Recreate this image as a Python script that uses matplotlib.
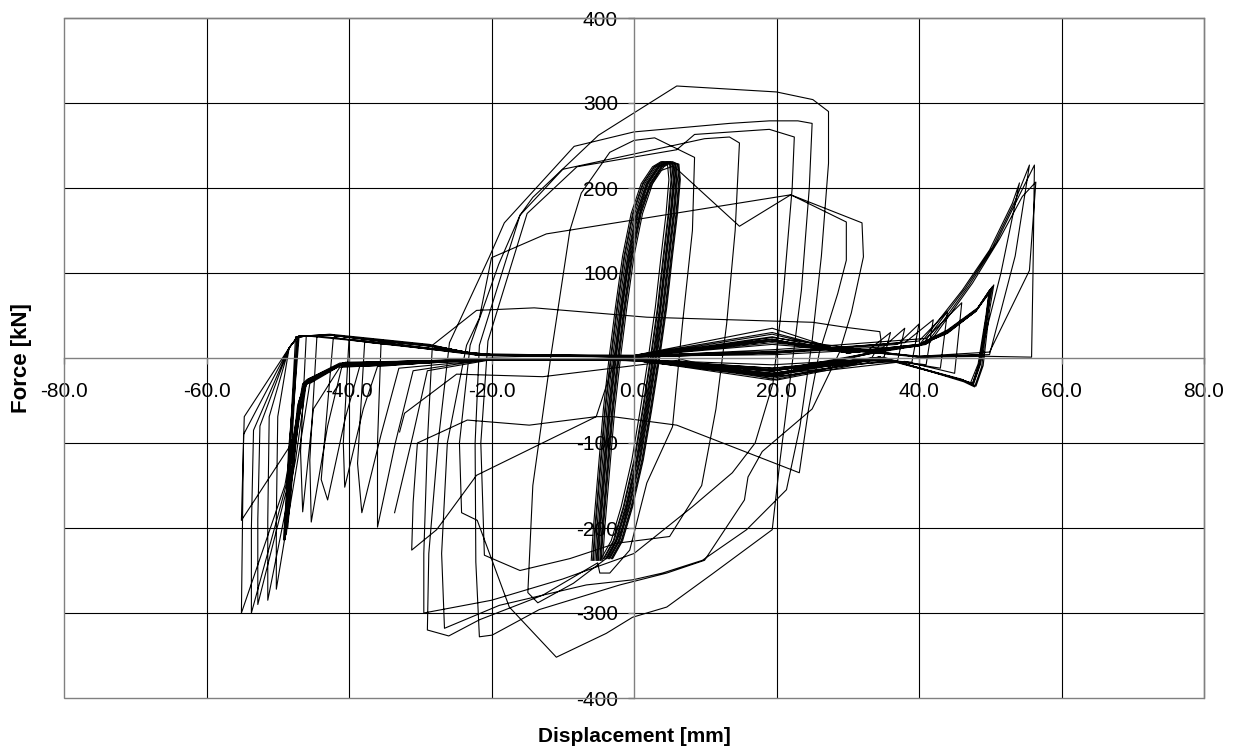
import numpy as np
import matplotlib.pyplot as plt
from matplotlib.patches import Rectangle

plt.rcParams['font.family'] = ['Liberation Sans', 'DejaVu Sans']

# elastic cycles: force levels at which each narrow loop was read ...
elastic_levels = [-238, -200, -130, -60, 0, 60, 120, 170, 205, 225, 231,
                  228, 210, 170, 120, 60, 0, -60, -120, -175, -215, -236]
# ... and the displacement of every loop at those levels (one loop per row)
elastic_x = [
    [-6.0, -5.7, -5.0, -4.3, -3.5, -2.6, -1.6, -0.4, 1.0, 2.6, 3.8, 5.1, 5.3, 4.9, 4.2, 3.4, 2.4, 1.3, 0.1, -1.4, -2.8, -4.2],
    [-5.7, -5.4, -4.7, -4.0, -3.2, -2.3, -1.3, -0.1, 1.3, 2.9, 4.1, 4.7, 4.9, 4.5, 3.8, 3.0, 2.0, 0.9, -0.3, -1.8, -3.2, -4.6],
    [-5.5, -5.2, -4.5, -3.8, -3.0, -2.1, -1.1, 0.1, 1.5, 3.1, 4.3, 5.5, 5.7, 5.3, 4.6, 3.8, 2.8, 1.7, 0.5, -1.0, -2.4, -3.8],
    [-5.3, -5.0, -4.3, -3.6, -2.8, -1.9, -0.9, 0.3, 1.7, 3.3, 4.5, 5.0, 5.2, 4.8, 4.1, 3.3, 2.3, 1.2, 0.0, -1.5, -2.9, -4.3],
    [-5.1, -4.8, -4.1, -3.4, -2.6, -1.7, -0.7, 0.5, 1.9, 3.5, 4.7, 5.9, 6.1, 5.7, 5.0, 4.2, 3.2, 2.1, 0.9, -0.6, -2.0, -3.4],
    [-5.0, -4.7, -4.0, -3.3, -2.5, -1.6, -0.6, 0.6, 2.0, 3.6, 4.8, 5.4, 5.6, 5.2, 4.5, 3.7, 2.7, 1.6, 0.4, -1.1, -2.5, -3.9],
    [-4.8, -4.5, -3.8, -3.1, -2.3, -1.4, -0.4, 0.8, 2.2, 3.8, 5.0, 6.1, 6.3, 5.9, 5.2, 4.4, 3.4, 2.3, 1.1, -0.4, -1.8, -3.2],
    [-4.6, -4.3, -3.6, -2.9, -2.1, -1.2, -0.2, 1.0, 2.4, 4.0, 5.2, 5.7, 5.9, 5.5, 4.8, 4.0, 3.0, 1.9, 0.7, -0.8, -2.2, -3.6],
    [-4.4, -4.1, -3.4, -2.7, -1.9, -1.0, 0.0, 1.2, 2.6, 4.2, 5.4, 6.2, 6.4, 6.0, 5.3, 4.5, 3.5, 2.4, 1.2, -0.3, -1.7, -3.1],
    [-5.8, -5.5, -4.8, -4.1, -3.3, -2.4, -1.4, -0.2, 1.2, 2.8, 4.0, 5.8, 6.0, 5.6, 4.9, 4.1, 3.1, 2.0, 0.8, -0.7, -2.1, -3.5],
    [-4.7, -4.4, -3.7, -3.0, -2.2, -1.3, -0.3, 0.9, 2.3, 3.9, 5.1, 5.3, 5.5, 5.1, 4.4, 3.6, 2.6, 1.5, 0.3, -1.2, -2.6, -4.0],
    [-5.2, -4.9, -4.2, -3.5, -2.7, -1.8, -0.8, 0.4, 1.8, 3.4, 4.6, 6.3, 6.5, 6.1, 5.4, 4.6, 3.6, 2.5, 1.3, -0.2, -1.6, -3.0],
]

# large cycles (displacement, force)
peak_cycles = [
    (5.8, 224), (14.8, 155), (22.0, 192), (29.8, 160), (29.8, 115), (28.6, 76), (26.0, 6),
    (24.5, -60), (23.2, -135), (6.0, -79), (-3.0, -69), (-5.3, -69), (-14.7, -79), (-23.4, -73),
    (-30.4, -100), (-31.0, -170), (-31.2, -226), (-27.7, -202), (-22.1, -138), (-5.3, -69),
    (-2.6, 0), (-1.0, 100), (1.2, 185), (3.6, 220), (5.6, 226),
    (5.8, 215), (4.2, 100), (3.0, 0), (1.0, -100), (-1.6, -200), (-3.6, -234), (-8.5, -265),
    (-13.5, -288), (-14.9, -276), (-14.2, -150), (-11.6, 6), (-9.0, 150), (-7.4, 194),
    (-3.4, 242), (0.0, 256), (2.9, 259), (8.5, 236), (8.2, 150), (6.8, 40), (5.4, -81),
    (1.8, -147), (-0.6, -226), (-3.4, -253), (-4.8, -253), (-5.1, -241),
    (-12.8, -279), (-21.7, -308), (-26.0, -327), (-29.0, -320), (-28.8, -230), (-27.5, -100),
    (-25.9, 18), (-20.3, 119), (-18.2, 159), (-8.4, 249), (0.0, 266), (13.4, 276), (19.0, 279),
    (23.0, 279), (25.0, 276), (24.6, 200), (23.5, 80), (22.0, -20), (20.5, -120), (19.4, -202),
    (11.0, -254), (4.6, -293), (-0.2, -305), (-3.9, -324), (-10.9, -352), (-17.5, -293),
    (-22.0, -191), (-24.2, -182), (-24.5, -100), (-23.0, 15), (-19.0, 110), (-16.0, 168),
    (-14.2, 189), (-5.0, 262), (6.0, 320), (20.0, 313), (25.1, 304), (27.3, 290), (27.3, 229),
    (26.3, 120), (25.0, 20), (23.3, -80), (21.4, -155),
    (15.8, -202), (9.6, -238), (4.0, -253), (-0.2, -261), (-6.7, -267), (-18.9, -291),
    (-26.6, -318), (-27.0, -230), (-26.2, -100), (-23.5, 15), (-21.7, 47), (-20.0, 118),
    (-12.3, 146), (22.0, 192), (32.0, 159), (32.2, 119), (30.5, 53), (28.8, 6), (25.0, -60),
    (18.0, -110), (16.0, -140), (15.5, -167),
    (9.9, -238), (4.6, -253), (-2.0, -267), (-13.3, -296), (-19.9, -326), (-21.7, -328),
    (-22.2, -240), (-22.3, -100), (-21.7, 15), (-16.0, 168), (-10.0, 222), (0.0, 240),
    (9.9, 258), (13.4, 260), (14.8, 253), (14.2, 150), (13.0, 40), (11.5, -60), (9.5, -150),
    (5.0, -210), (-2.5, -218), (-9.0, -236), (-16.0, -250), (-21.0, -232), (-21.5, -100),
    (-20.5, 20), (-15.0, 170), (-8.0, 225), (6.0, 245), (8.5, 263), (19.0, 269), (22.5, 260),
    (22.2, 200), (21.0, 80), (19.5, -30), (17.0, -100), (13.8, -135), (8.2, -175),
    (0.0, -230), (-10.0, -260), (-20.0, -285), (-29.5, -300),
    (-29.5, -230), (-29.0, -100), (-28.3, 15), (-22.1, 56), (-14.0, 59), (1.8, 48),
    (25.1, 42), (29.8, 36), (34.5, 31), (34.7, 19), (33.0, -5), (20.0, -26), (6.8, -2),
    (-12.8, -22), (-24.9, -19), (-32.2, -65), (-32.9, -87),
]

# slip cycles at large displacement
slip_cycles = [
    (-33.6, -182), (-31.0, -90), (-29.0, -15), (-20.0, -2), (0.0, -2), (19.4, -8), (30.0, -3),
    (35.0, -2), (36.0, 30), (33.0, 10), (20.0, 4), (0.0, 2), (-20.0, 4), (-30.0, 12), (-35.5, 18),
    (-36.0, -100), (-36.0, -199), (-33.5, -100), (-31.0, -15), (-20.0, -1), (0.0, -3),
    (19.4, -18), (32.0, -4), (37.0, -3), (38.0, 35), (35.0, 13), (20.0, 6), (0.0, 1),
    (-20.0, 4), (-33.0, 15), (-37.8, 19),
    (-38.8, -124), (-38.2, -182), (-35.5, -90), (-33.0, -12), (-20.0, -2), (0.0, -1),
    (19.4, -12), (34.0, -2), (39.0, -5), (40.0, 40), (37.0, 16), (20.0, 7), (0.0, 2),
    (-21.7, 3), (-35.0, 17), (-40.0, 22),
    (-40.8, -100), (-40.6, -152), (-38.0, -60), (-36.0, -10), (-20.0, 0), (0.0, -3),
    (19.4, -20), (36.0, -3), (41.0, -8), (42.0, 45), (38.0, 18), (20.0, 8), (0.0, 3),
    (-21.7, 4), (-37.0, 18), (-42.2, 24),
    (-43.9, -143), (-43.0, -167), (-40.5, -70), (-38.5, -10), (-20.0, -2), (0.0, -2),
    (19.4, -14), (37.0, -4), (43.0, -12), (44.0, 55), (40.0, 20), (20.0, 6), (0.0, 1),
    (-21.7, 4), (-38.0, 20), (-44.5, 26),
    (-45.5, -120), (-45.3, -193), (-43.0, -80), (-41.0, -10), (-20.0, -1), (0.0, -3),
    (19.4, -22), (38.0, -4), (45.0, -18), (46.0, 65), (41.0, 23), (20.0, 10), (0.0, 2),
    (-21.7, 5), (-40.0, 21), (-46.0, 26),
    (-46.8, -110), (-46.5, -181), (-45.0, -60), (-41.3, -11), (-20.0, -2), (0.0, -1),
    (19.4, -15), (34.5, 1), (46.1, -26), (47.5, -30), (48.5, -6), (49.5, 50), (50.0, 78),
    (48.0, 55), (44.0, 30), (40.0, 15), (30.0, 6), (19.4, 22), (0.0, 2), (-21.7, 4),
    (-42.7, 27), (-47.2, 25),
    (-48.0, -100), (-49.0, -214), (-48.3, -150), (-47.0, -50), (-46.0, -26), (-40.9, -6),
    (-20.0, -1), (0.0, -3), (19.4, -20), (34.5, 0), (46.1, -26), (47.6, -32), (48.6, -8),
    (49.6, 52), (50.3, 84), (48.2, 58), (44.0, 32), (40.0, 16), (30.0, 7), (19.4, 30),
    (0.0, 3), (-21.7, 3), (-28.7, 15), (-42.7, 27), (-47.0, 26),
    (-48.2, -100), (-48.8, -208), (-48.0, -140), (-46.8, -45), (-45.5, -24), (-40.5, -5),
    (-20.0, -2), (0.0, -2), (19.4, -26), (35.0, 1), (46.3, -28), (47.8, -34), (48.8, -10),
    (49.7, 55), (50.0, 80), (48.0, 56), (44.0, 30), (40.0, 14), (30.0, 6), (19.4, 25),
    (0.0, 2), (-21.7, 4), (-28.7, 14), (-42.7, 27), (-47.3, 25),
    (-48.4, -110), (-49.2, -214), (-48.5, -150), (-47.2, -55), (-46.0, -27), (-41.0, -7),
    (-20.0, -1), (0.0, -3), (19.4, -18), (34.5, 1), (46.0, -25), (47.2, -30), (48.3, -7),
    (49.4, 50), (49.8, 76), (47.8, 54), (44.0, 29), (40.0, 15), (30.0, 6), (19.4, 35),
    (0.0, 3), (-21.7, 3), (-28.7, 16), (-42.7, 28), (-47.5, 25),
    (-48.3, -100), (-48.6, -200), (-48.0, -145), (-46.8, -50), (-45.8, -25), (-41.3, -6),
    (-20.0, -2), (0.0, -1), (19.4, -24), (35.0, 0), (46.5, -27), (48.0, -33), (49.0, -9),
    (49.9, 56), (50.5, 86), (48.4, 60), (44.0, 33), (40.0, 16), (30.0, 7), (19.4, 28),
    (0.0, 2), (-21.7, 4), (-28.7, 15), (-42.7, 27), (-47.1, 26),
    (-48.5, -110), (-49.0, -212), (-48.2, -150), (-47.0, -52), (-46.2, -28), (-40.8, -6),
    (-20.0, -1), (0.0, -2), (19.4, -12), (34.5, 1), (46.1, -26), (47.5, -31), (48.5, -6),
    (49.5, 52), (49.9, 80), (48.0, 56), (44.0, 31), (40.0, 15), (30.0, 6), (19.4, 20),
    (0.0, 2), (-21.7, 3), (-28.7, 15), (-42.7, 27), (-47.2, 25),
    (-48.4, 12), (-50.0, -69), (-50.2, -190), (-50.2, -272), (-47.0, -110), (-45.5, -30),
    (-41.0, -8), (-20.0, -2), (0.0, -3), (19.4, -15), (34.5, 8), (40.0, 15), (46.1, 80),
    (49.9, 127), (53.1, 182), (54.1, 206), (51.5, 100), (48.6, 4), (40.0, 2), (19.4, 16),
    (0.0, 2), (-21.7, 4), (-28.7, 15), (-42.7, 27), (-47.2, 25),
    (-48.4, 12), (-51.2, -69), (-51.4, -190), (-51.4, -285), (-47.5, -120), (-46.0, -30),
    (-41.3, -8), (-20.0, -2), (0.0, -2), (19.4, -20), (34.5, 9), (40.5, 16), (46.5, 82),
    (50.3, 130), (53.5, 185), (55.5, 227), (53.5, 120), (49.9, 4), (40.0, 1), (19.4, 24),
    (0.0, 1), (-21.7, 3), (-28.7, 14), (-42.7, 27), (-47.2, 25),
    (-48.4, 12), (-52.5, -80), (-52.8, -190), (-52.8, -290), (-48.0, -130), (-46.3, -32),
    (-41.5, -8), (-20.0, -2), (0.0, -3), (19.4, -16), (34.5, 7), (41.0, 16), (47.0, 85),
    (50.8, 135), (54.0, 190), (56.2, 227), (56.0, 100), (55.8, 1), (49.5, 2), (40.0, 1),
    (19.4, 18), (0.0, 2), (-21.7, 4), (-28.7, 15), (-42.7, 27), (-47.2, 25),
    (-48.4, 12), (-53.4, -85), (-53.7, -200), (-53.7, -300), (-48.5, -140), (-46.5, -34),
    (-41.8, -9), (-20.0, -2), (0.0, -2), (19.4, -22), (34.5, 8), (41.5, 18), (47.5, 88),
    (51.3, 140), (54.5, 190), (56.4, 207), (55.5, 103), (49.9, 7), (40.0, 2), (19.4, 20),
    (0.0, 2), (-21.7, 3), (-28.7, 15), (-42.7, 27), (-47.2, 25),
    (-48.4, 12), (-54.7, -69), (-55.1, -191), (-48.4, -105), (-47.4, -85), (-46.0, -30),
    (-41.0, -8), (-20.0, -2), (0.0, -3), (19.4, -14), (34.5, 1), (46.1, -26), (47.6, -30),
    (48.6, -6), (49.6, 52), (50.1, 82), (48.0, 55), (44.0, 30), (40.0, 15), (30.0, 6),
    (19.4, 22), (0.0, 2), (-21.7, 4), (-28.7, 15), (-42.7, 27), (-47.2, 25),
    (-48.4, 12), (-54.8, -90), (-55.1, -300), (-49.0, -150), (-46.5, -30), (-41.0, -8),
    (-20.0, -2), (0.0, -1),
]

x_ticks = [-80, -60, -40, -20, 0, 20, 40, 60, 80]
x_labels = ['-80.0', '-60.0', '-40.0', '-20.0', '0.0', '20.0', '40.0', '60.0', '80.0']
y_ticks = [-400, -300, -200, -100, 100, 200, 300, 400]
y_labels = ['-400', '-300', '-200', '-100', '100', '200', '300', '400']

fig = plt.figure(figsize=(12.34, 7.47), dpi=100)
ax = fig.add_axes([64 / 1234, 1 - 698 / 747, 1140 / 1234, 680 / 747])

# grid (black), frame and zero axes (grey)
for v in [-60, -40, -20, 20, 40, 60]:
    ax.axvline(v, color='black', lw=0.8, zorder=1)
for h in [-300, -200, -100, 100, 200, 300]:
    ax.axhline(h, color='black', lw=0.8, zorder=1)

lw = 0.8
for row in elastic_x:
    ax.plot(row, elastic_levels, color='black', lw=lw)
px, py = zip(*peak_cycles)
ax.plot(px, py, color='black', lw=lw)
sx, sy = zip(*slip_cycles)
ax.plot(sx, sy, color='black', lw=lw)

ax.set_xlim(-80, 80)
ax.set_ylim(-400, 400)

grey = '#808080'
ax.spines['left'].set_position(('data', 0))
ax.spines['bottom'].set_position(('data', 0))
for s in ax.spines.values():
    s.set_color(grey)
    s.set_linewidth(1.0)
ax.add_patch(Rectangle((0, 0), 1, 1, transform=ax.transAxes, fill=False,
                       edgecolor=grey, lw=1.0, clip_on=False, zorder=2.5))

ax.set_xticks(x_ticks)
ax.set_xticklabels(x_labels)
ax.set_yticks(y_ticks)
ax.set_yticklabels(y_labels)
ax.tick_params(axis='x', direction='out', length=4, width=1, color=grey, pad=13, labelsize=15)
ax.tick_params(axis='y', direction='out', length=4.5, width=1, color=grey, pad=7, labelsize=15)

fig.text(634 / 1234, 1 - 737 / 747, 'Displacement [mm]', ha='center', va='center',
         fontsize=15, fontweight='bold')
fig.text(22 / 1234, 1 - 358 / 747, 'Force [kN]', ha='center', va='center',
         rotation=90, fontsize=16, fontweight='bold')

fig.savefig('out.png', dpi=100)
